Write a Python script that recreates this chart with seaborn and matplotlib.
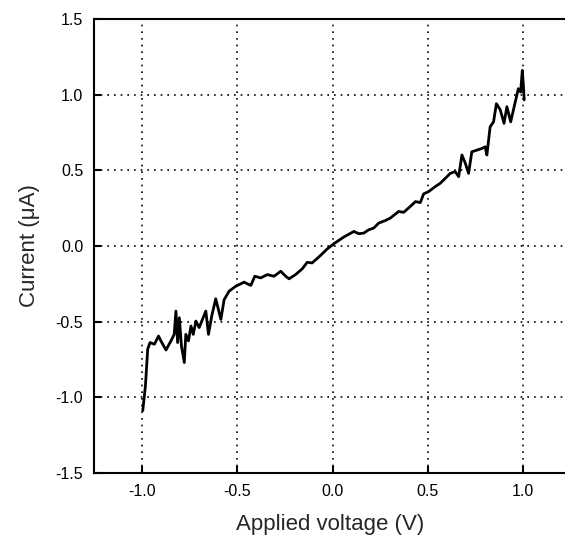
import numpy as np
import pandas as pd
import matplotlib
matplotlib.use('Agg')
import matplotlib.pyplot as plt
import seaborn as sns

# I-V curve
voltage = [-0.996, -0.982, -0.970, -0.958, -0.935, -0.913, -0.901, -0.874, -0.848, -0.831,
           -0.822, -0.813, -0.804, -0.793, -0.778, -0.770, -0.756, -0.743, -0.731, -0.717,
           -0.700, -0.665, -0.651, -0.634, -0.613, -0.586, -0.569, -0.543, -0.508, -0.464,
           -0.429, -0.408, -0.377, -0.342, -0.307, -0.272, -0.246, -0.228, -0.194, -0.159,
           -0.133, -0.107, -0.072, -0.028, 0.007, 0.059, 0.112, 0.138, 0.164, 0.190,
           0.216, 0.242, 0.277, 0.303, 0.347, 0.373, 0.408, 0.435, 0.461, 0.478,
           0.504, 0.539, 0.565, 0.592, 0.618, 0.644, 0.662, 0.679, 0.697, 0.714,
           0.731, 0.757, 0.784, 0.801, 0.810, 0.819, 0.827, 0.845, 0.860, 0.880,
           0.900, 0.915, 0.935, 0.949, 0.975, 0.987, 0.996, 1.001, 1.006]
current = [-1.088, -0.924, -0.682, -0.638, -0.649, -0.595, -0.627, -0.687, -0.627, -0.584,
           -0.430, -0.638, -0.474, -0.660, -0.770, -0.584, -0.627, -0.529, -0.584, -0.496,
           -0.539, -0.430, -0.584, -0.463, -0.349, -0.485, -0.355, -0.299, -0.266, -0.239,
           -0.261, -0.200, -0.211, -0.189, -0.200, -0.167, -0.200, -0.217, -0.189, -0.151,
           -0.108, -0.112, -0.073, -0.020, 0.015, 0.059, 0.096, 0.081, 0.085, 0.107,
           0.118, 0.151, 0.168, 0.184, 0.228, 0.222, 0.261, 0.293, 0.287, 0.344,
           0.359, 0.392, 0.414, 0.447, 0.480, 0.491, 0.458, 0.601, 0.546, 0.480,
           0.622, 0.633, 0.644, 0.655, 0.601, 0.699, 0.787, 0.820, 0.940, 0.900,
           0.810, 0.920, 0.820, 0.897, 1.039, 1.017, 1.160, 1.072, 0.965]

xticks = [-1.0, -0.5, 0.0, 0.5, 1.0]
yticks = [-1.5, -1.0, -0.5, 0.0, 0.5, 1.0, 1.5]

df = pd.DataFrame({'V': voltage, 'I': current})

sns.set_style("ticks")
plt.rcParams['font.family'] = ['Liberation Sans', 'DejaVu Sans']

fig = plt.figure(figsize=(5.65, 5.4), dpi=100)
ax = fig.add_axes([0.167, 0.124, 0.833, 0.841])

sns.lineplot(data=df, x='V', y='I', sort=False, estimator=None,
             color='black', linewidth=2.0, ax=ax)

ax.set_xlim(-1.25, 1.22)
ax.set_ylim(-1.5, 1.5)
ax.set_xticks(xticks)
ax.set_yticks(yticks)
ax.set_xticklabels([f'{t:.1f}' for t in xticks])
ax.set_yticklabels([f'{t:.1f}' for t in yticks])

ax.grid(True, color='black', linestyle=(0, (1, 3)), linewidth=1.2)
ax.tick_params(direction='in', length=5, width=1.5, labelsize=11.5, colors='black', pad=8)
for side in ['left', 'bottom', 'top']:
    ax.spines[side].set_linewidth(1.5)
    ax.spines[side].set_color('black')
ax.spines['right'].set_visible(False)

ax.set_xlabel('Applied voltage (V)', fontsize=16, labelpad=11)
ax.set_ylabel('Current (\u03bcA)', fontsize=16, labelpad=11)

fig.savefig('out.png', dpi=100)
